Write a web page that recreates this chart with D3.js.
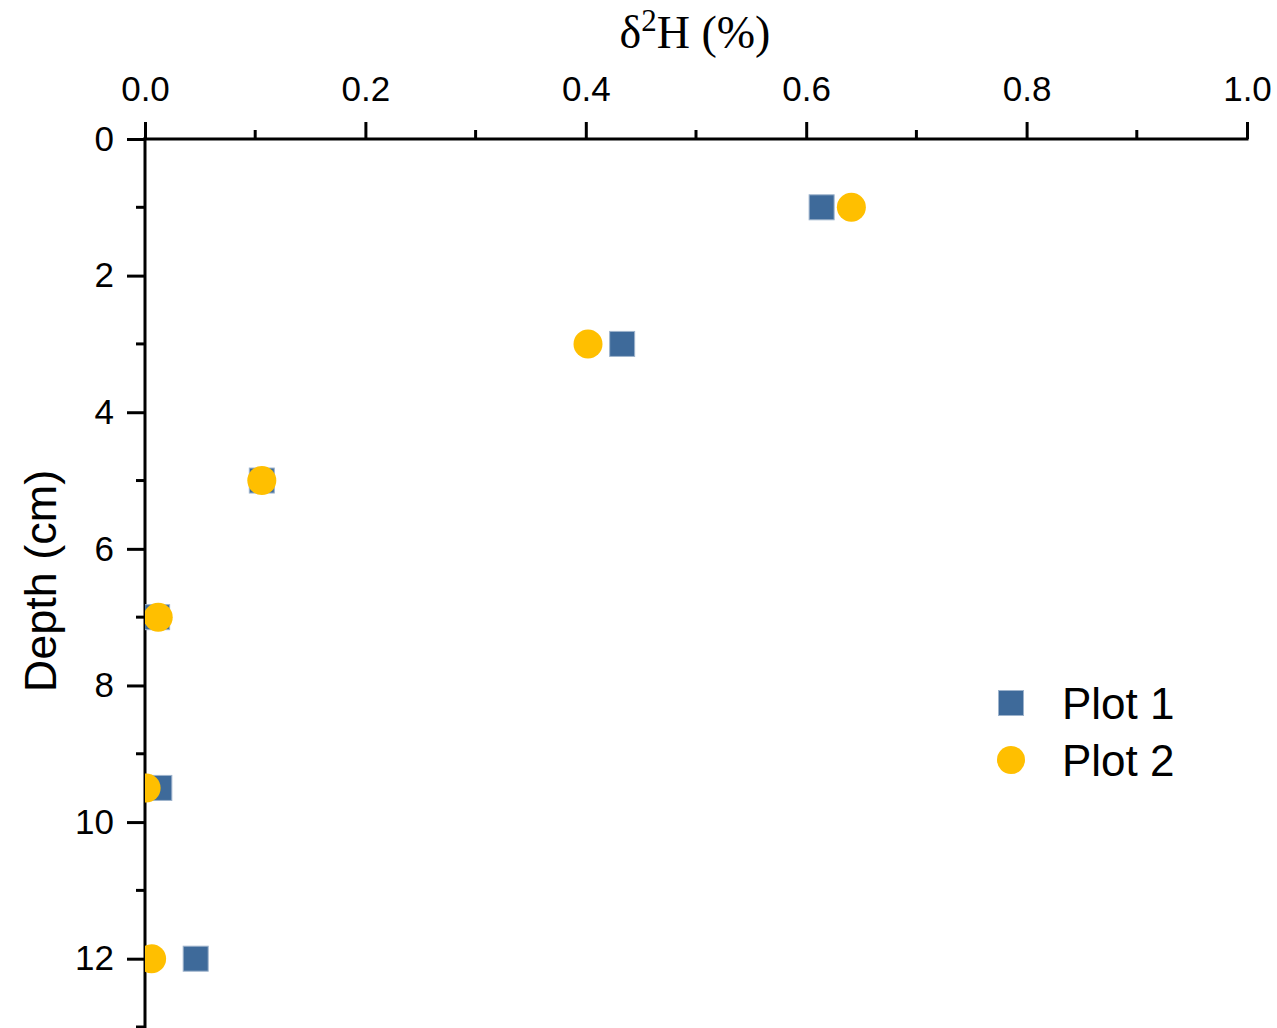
<!DOCTYPE html>
<html>
<head>
<meta charset="utf-8">
<script src="https://cdn.jsdelivr.net/npm/d3@7"></script>
<style>
  body { margin: 0; background: #fff; }
  text { font-family: "Liberation Sans", Arial, sans-serif; fill: #000; }
</style>
</head>
<body>
<div id="chart"></div>
<script>
// data
var depths = [1, 3, 5, 7, 9.5, 12];
var plot1 = [0.614, 0.433, 0.106, 0.011, 0.013, 0.046];
var plot2 = [0.641, 0.402, 0.106, 0.012, 0.001, 0.006];
var seriesNames = ["Plot 1", "Plot 2"];
var xTicks = [0, 0.2, 0.4, 0.6, 0.8, 1.0];
var yTicks = [0, 2, 4, 6, 8, 10, 12];

var svgWidth = 1277;
var svgHeight = 1028;

var margin = { top: 139, right: 30, bottom: 1, left: 145 };
var width = 1247 - margin.left;
var height = 1027 - margin.top;

var svg = d3.select("#chart")
  .append("svg")
  .attr("width", svgWidth)
  .attr("height", svgHeight);

var chartGroup = svg.append("g")
  .attr("transform", `translate(${margin.left}, ${margin.top})`);

var xScale = d3.scaleLinear().domain([0, 1]).range([0, width]);
var yScale = d3.scaleLinear().domain([0, 13]).range([0, height]);

// clip points to the plot area
svg.append("defs").append("clipPath")
  .attr("id", "plotClip")
  .append("rect")
  .attr("x", 0).attr("y", 0)
  .attr("width", width).attr("height", height + 5);

// minor ticks
var xMinor = d3.range(0.1, 1.0, 0.2);
var yMinor = d3.range(1, 14, 2);

chartGroup.selectAll(".xminor")
  .data(xMinor)
  .enter()
  .append("line")
  .attr("x1", d => xScale(d)).attr("x2", d => xScale(d))
  .attr("y1", 0).attr("y2", -9)
  .attr("stroke", "#000").attr("stroke-width", 3);

chartGroup.selectAll(".yminor")
  .data(yMinor)
  .enter()
  .append("line")
  .attr("y1", d => yScale(d)).attr("y2", d => yScale(d))
  .attr("x1", 0).attr("x2", -9)
  .attr("stroke", "#000").attr("stroke-width", 3);

// top x axis
var topAxis = d3.axisTop(xScale)
  .tickValues(xTicks)
  .tickFormat(d3.format(".1f"))
  .tickSizeInner(17)
  .tickSizeOuter(0)
  .tickPadding(21);

var xAxis = chartGroup.append("g").call(topAxis);
xAxis.select(".domain").attr("stroke-width", 3).attr("d", `M-1.5,0H${width + 1.5}`);
xAxis.selectAll(".tick line").attr("stroke-width", 3);
xAxis.selectAll(".tick text").attr("font-size", 35)
  .attr("font-family", "Liberation Sans, Arial, sans-serif");

// left y axis
var leftAxis = d3.axisLeft(yScale)
  .tickValues(yTicks)
  .tickSizeInner(18)
  .tickSizeOuter(0)
  .tickPadding(13);

var yAxis = chartGroup.append("g").call(leftAxis);
yAxis.select(".domain").attr("stroke-width", 3).attr("d", `M0,-1.5V${height + 2}`);
yAxis.selectAll(".tick line").attr("stroke-width", 3);
yAxis.selectAll(".tick text").attr("font-size", 35)
  .attr("font-family", "Liberation Sans, Arial, sans-serif");

// points
var pointsGroup = chartGroup.append("g").attr("clip-path", "url(#plotClip)");
var sq = 25;

pointsGroup.selectAll(".sq")
  .data(depths.map((d, i) => ({ depth: d, value: plot1[i] })))
  .enter()
  .append("rect")
  .attr("x", d => xScale(d.value) - sq / 2)
  .attr("y", d => yScale(d.depth) - sq / 2)
  .attr("width", sq).attr("height", sq)
  .attr("fill", "#3E6A9A")
  .attr("stroke", "#9db3cc").attr("stroke-width", 1);

pointsGroup.selectAll(".dot")
  .data(depths.map((d, i) => ({ depth: d, value: plot2[i] })))
  .enter()
  .append("circle")
  .attr("cx", d => xScale(d.value))
  .attr("cy", d => yScale(d.depth))
  .attr("r", 14.5)
  .attr("fill", "#FFBF00");

// axis titles
var title = svg.append("text")
  .attr("x", 695).attr("y", 48)
  .attr("text-anchor", "middle")
  .style("font-family", "Liberation Serif, Times New Roman, serif")
  .attr("font-size", 46);
title.append("tspan").text("δ");
title.append("tspan").attr("font-size", 31).attr("dy", -17).text("2");
title.append("tspan").attr("dy", 17).text("H (%)");

svg.append("text")
  .attr("transform", "translate(56, 581) rotate(-90)")
  .attr("text-anchor", "middle")
  .attr("font-size", 45)
  .text("Depth (cm)");

// legend
var legend = svg.append("g");
legend.append("rect")
  .attr("x", 1011 - sq / 2).attr("y", 703 - sq / 2)
  .attr("width", sq).attr("height", sq)
  .attr("fill", "#3E6A9A")
  .attr("stroke", "#9db3cc").attr("stroke-width", 1);
legend.append("circle")
  .attr("cx", 1011).attr("cy", 760).attr("r", 14)
  .attr("fill", "#FFBF00");
legend.selectAll(".lbl")
  .data(seriesNames)
  .enter()
  .append("text")
  .attr("x", 1062)
  .attr("y", (d, i) => 719 + i * 57)
  .attr("font-size", 44)
  .text(d => d);
</script>
</body>
</html>
